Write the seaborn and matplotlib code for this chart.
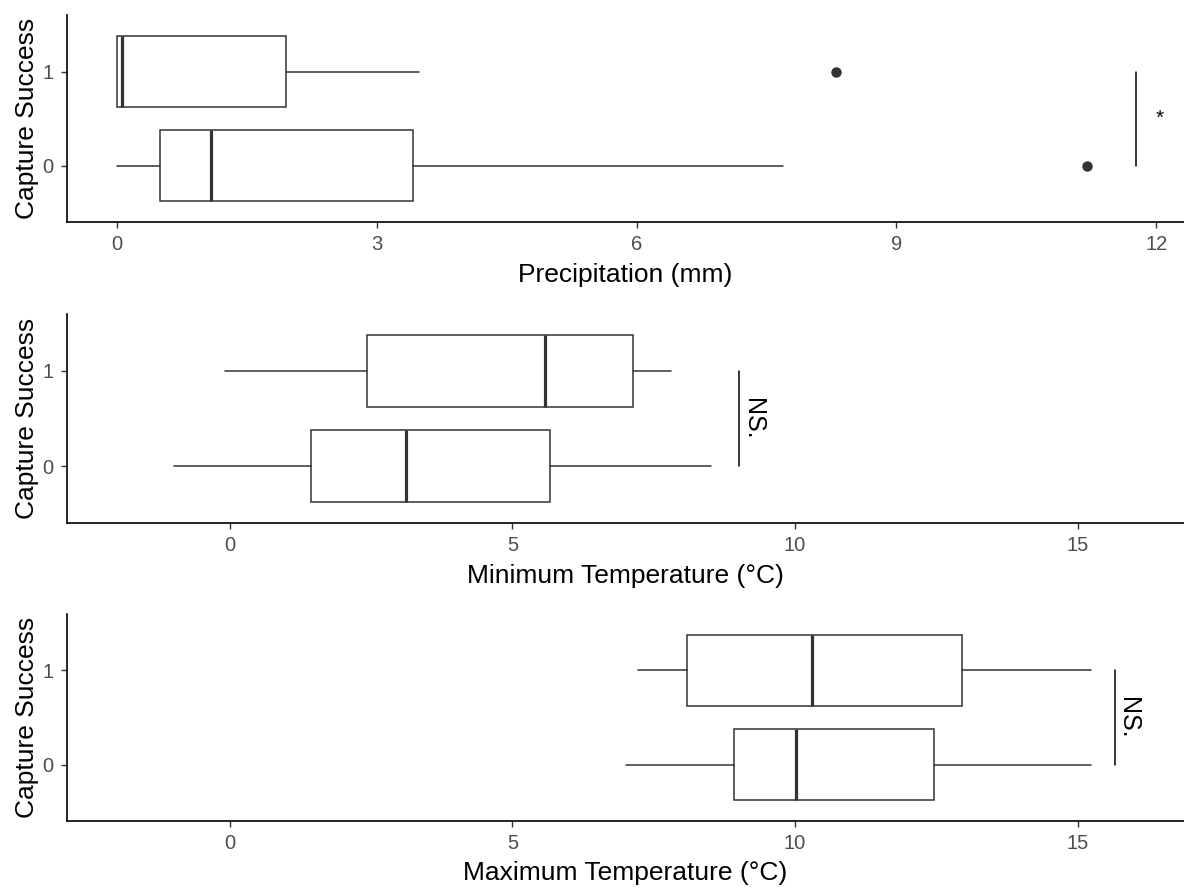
import matplotlib
matplotlib.use("Agg")
import matplotlib.pyplot as plt
import seaborn as sns

# Capture-success groups (0 = no capture, 1 = capture)
categories = ["0", "1"]

# Precipitation (mm): box summaries per group
precip_whislo = [0.00, 0.00]
precip_q1 = [0.50, 0.00]
precip_med = [1.09, 0.06]
precip_q3 = [3.42, 1.95]
precip_whishi = [7.69, 3.49]
precip_fliers = [[11.20], [8.30]]
precip_ticks = [0, 3, 6, 9, 12]

# Minimum temperature (°C)
tmin_whislo = [-0.99, -0.09]
tmin_q1 = [1.43, 2.42]
tmin_med = [3.12, 5.57]
tmin_q3 = [5.67, 7.13]
tmin_whishi = [8.51, 7.81]
tmin_fliers = [[], []]

# Maximum temperature (°C)
tmax_whislo = [7.00, 7.22]
tmax_q1 = [8.92, 8.09]
tmax_med = [10.02, 10.30]
tmax_q3 = [12.46, 12.96]
tmax_whishi = [15.23, 15.23]
tmax_fliers = [[], []]
temp_ticks = [0, 5, 10, 15]

# Significance brackets: x position, label, label x position
sig_x = [11.77, 9.01, 15.66]
sig_label = ["*", "NS.", "NS."]
sig_label_x = [12.04, 9.26, 15.89]

x_titles = ["Precipitation (mm)", "Minimum Temperature (°C)", "Maximum Temperature (°C)"]
x_limits = [(-0.577, 12.32), (-2.88, 16.88), (-2.88, 16.88)]

sns.set_theme(style="ticks")
plt.rcParams["font.family"] = ["Liberation Sans", "DejaVu Sans"]

fig = plt.figure(figsize=(11.84, 8.91), dpi=100)
panel_rects = [
    [0.0566, 0.7508, 0.9434, 0.2323],
    [0.0566, 0.4130, 0.9434, 0.2346],
    [0.0566, 0.0786, 0.9434, 0.2323],
]

edge = "#333333"
tick_col = "#4D4D4D"

panels = [
    (precip_whislo, precip_q1, precip_med, precip_q3, precip_whishi, precip_fliers, precip_ticks),
    (tmin_whislo, tmin_q1, tmin_med, tmin_q3, tmin_whishi, tmin_fliers, temp_ticks),
    (tmax_whislo, tmax_q1, tmax_med, tmax_q3, tmax_whishi, tmax_fliers, temp_ticks),
]

for i, (wlo, q1, med, q3, whi, fl, ticks) in enumerate(panels):
    ax = fig.add_axes(panel_rects[i])
    stats = []
    for j, cat in enumerate(categories):
        stats.append(dict(label=cat, whislo=wlo[j], q1=q1[j], med=med[j],
                          q3=q3[j], whishi=whi[j], fliers=fl[j]))
    ax.bxp(stats, positions=[0, 1], widths=0.75, orientation="horizontal",
           showcaps=False, patch_artist=True,
           boxprops=dict(facecolor="white", edgecolor=edge, linewidth=1.1),
           whiskerprops=dict(color=edge, linewidth=1.1),
           medianprops=dict(color=edge, linewidth=2.3, solid_capstyle="butt"),
           flierprops=dict(marker="o", markerfacecolor=edge, markeredgecolor=edge,
                           markersize=6.5))

    # significance bracket between the two groups
    ax.plot([sig_x[i], sig_x[i]], [0, 1], color="black", linewidth=1.1)
    if sig_label[i] == "*":
        ax.text(sig_label_x[i], 0.5, sig_label[i], ha="center", va="center",
                fontsize=15, color="black")
    else:
        ax.text(sig_label_x[i], 0.5, sig_label[i], ha="center", va="center",
                rotation=-90, fontsize=18, color="black")

    ax.set_xlim(*x_limits[i])
    ax.set_ylim(-0.6, 1.6)
    ax.set_xticks(ticks)
    ax.set_xticklabels([str(t) for t in ticks])
    ax.set_yticks([0, 1])
    ax.set_yticklabels(categories)
    ax.set_xlabel(x_titles[i], fontsize=19, color="black", labelpad=6)
    ax.set_ylabel("Capture Success", fontsize=19, color="black", labelpad=3)
    ax.tick_params(axis="x", labelsize=14.5, colors=tick_col, length=4.5,
                   width=1.0, pad=5, direction="out")
    ax.tick_params(axis="y", labelsize=14.5, colors=tick_col, length=4.5,
                   width=1.0, pad=5, direction="out")
    ax.tick_params(axis="both", color=edge)
    for side in ["left", "bottom"]:
        ax.spines[side].set_color("black")
        ax.spines[side].set_linewidth(1.2)
    sns.despine(ax=ax)
    ax.set_facecolor("white")

fig.savefig("out.png", dpi=100, facecolor="white")
